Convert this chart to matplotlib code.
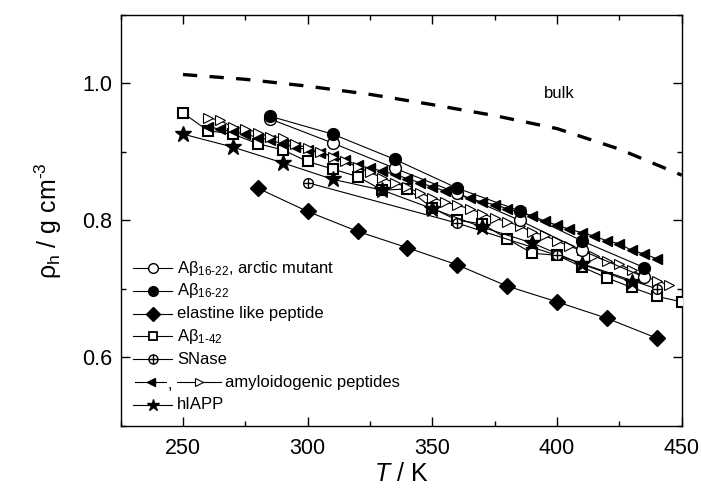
import matplotlib
matplotlib.use("Agg")
import matplotlib.pyplot as plt
from matplotlib.lines import Line2D
from matplotlib.ticker import MultipleLocator

plt.rcParams["font.family"] = ["Liberation Sans", "DejaVu Sans"]
plt.rcParams["mathtext.fontset"] = "custom"
plt.rcParams["mathtext.rm"] = "Liberation Sans"
plt.rcParams["mathtext.it"] = "Liberation Sans:italic"
plt.rcParams["mathtext.bf"] = "Liberation Sans:bold"

# bulk water
T_bulk = [250, 275, 300, 325, 350, 375, 400, 425, 450]
rho_bulk = [1.013, 1.006, 0.996, 0.984, 0.969, 0.953, 0.934, 0.904, 0.866]

# A-beta 16-22 (filled) and arctic mutant (open)
T_ab1622 = [285, 310, 335, 360, 385, 410, 435]
rho_ab1622 = [0.952, 0.926, 0.889, 0.847, 0.814, 0.770, 0.731]
rho_arctic = [0.948, 0.913, 0.876, 0.840, 0.800, 0.756, 0.717]

# elastin-like peptide
T_elp = [280, 300, 320, 340, 360, 380, 400, 420, 440]
rho_elp = [0.847, 0.813, 0.784, 0.760, 0.735, 0.704, 0.681, 0.657, 0.628]

# A-beta 1-42
T_ab142 = [250, 260, 270, 280, 290, 300, 310, 320, 330, 340, 350, 360, 370,
           380, 390, 400, 410, 420, 430, 440, 450]
rho_ab142 = [0.957, 0.931, 0.926, 0.912, 0.903, 0.886, 0.875, 0.864, 0.844,
             0.846, 0.818, 0.800, 0.795, 0.773, 0.752, 0.749, 0.732, 0.716,
             0.702, 0.689, 0.681]

# SNase
T_snase = [300, 360, 400, 440]
rho_snase = [0.855, 0.796, 0.749, 0.700]

# amyloidogenic peptides
T_amy1 = list(range(260, 445, 5))
rho_amy1 = [0.937, 0.933, 0.930, 0.926, 0.921, 0.917, 0.912, 0.907, 0.903,
            0.898, 0.894, 0.888, 0.881, 0.876, 0.872, 0.867, 0.861, 0.855,
            0.849, 0.843, 0.838, 0.832, 0.827, 0.823, 0.817, 0.812, 0.807,
            0.799, 0.793, 0.787, 0.782, 0.777, 0.770, 0.766, 0.756, 0.751,
            0.744]
T_amy2 = list(range(260, 450, 5))
rho_amy2 = [0.950, 0.946, 0.936, 0.934, 0.928, 0.922, 0.921, 0.912, 0.905,
            0.900, 0.893, 0.886, 0.878, 0.870, 0.862, 0.855, 0.848, 0.840,
            0.833, 0.827, 0.822, 0.817, 0.810, 0.803, 0.798, 0.792, 0.783,
            0.778, 0.770, 0.762, 0.756, 0.748, 0.740, 0.736, 0.727, 0.718,
            0.712, 0.705]

# hIAPP
T_iapp = [250, 270, 290, 310, 330, 350, 370, 390, 410, 430]
rho_iapp = [0.926, 0.907, 0.884, 0.860, 0.844, 0.817, 0.790, 0.767, 0.736,
            0.710]

fig = plt.figure(figsize=(7.01, 4.98), dpi=100)
ax = fig.add_axes([0.172, 0.145, 0.8005, 0.825])

lw = 0.8
k = "black"
ax.plot(T_bulk, rho_bulk, color=k, lw=2.4, dashes=(4.3, 3.7), zorder=2)

ax.plot(T_ab142, rho_ab142, color=k, lw=lw, marker="s", ms=6.5, mfc="white",
        mec=k, mew=1.5, zorder=3)
ax.plot(T_amy1, rho_amy1, color=k, lw=lw, marker="<", ms=7.5, mfc=k, mec=k,
        zorder=3)
ax.plot(T_amy2, rho_amy2, color=k, lw=lw, marker=">", ms=7.5, mfc="white",
        mec=k, mew=0.8, zorder=3)
ax.plot(T_elp, rho_elp, color=k, lw=lw, marker="D", ms=8.5, mfc=k, mec=k,
        zorder=3)
ax.plot(T_iapp, rho_iapp, color=k, lw=lw, marker="*", ms=12, mfc=k, mec=k,
        zorder=4)
ax.plot(T_snase, rho_snase, color=k, lw=lw, marker="o", ms=7, mfc="white",
        mec=k, mew=1.0, zorder=4)
ax.plot(T_snase, rho_snase, ls="none", marker="+", ms=7, mec=k, mew=1.0,
        zorder=4)
ax.plot(T_ab1622, rho_arctic, color=k, lw=lw, marker="o", ms=8.5, mfc="white",
        mec=k, mew=1.0, zorder=4)
ax.plot(T_ab1622, rho_ab1622, color=k, lw=lw, marker="o", ms=8.5, mfc=k,
        mec=k, zorder=5)

ax.text(401, 0.986, "bulk", fontsize=12, ha="center", va="center")

ax.set_xlim(225, 450)
ax.set_ylim(0.5, 1.1)
ax.xaxis.set_major_locator(MultipleLocator(50))
ax.xaxis.set_minor_locator(MultipleLocator(25))
ax.yaxis.set_major_locator(MultipleLocator(0.2))
ax.yaxis.set_minor_locator(MultipleLocator(0.1))
ax.yaxis.set_major_formatter(plt.FuncFormatter(lambda v, p: f"{v:.1f}"))
ax.tick_params(which="both", direction="in", top=True, right=True,
               width=1.0, labelsize=15.5)
ax.tick_params(which="major", length=6.5)
ax.tick_params(which="minor", length=3.8)
ax.tick_params(axis="x", pad=9)
ax.tick_params(axis="y", pad=6)
for s in ax.spines.values():
    s.set_linewidth(1.0)

ax.set_xlabel(r"$\it{T}$ / K", fontsize=18, labelpad=2)
ax.set_ylabel(r"ρ$_\mathrm{h}$ / g cm$^{\text{-}3}$", fontsize=18,
              labelpad=13)

# legend drawn by hand in figure pixels
sub = r"$_{\mathrm{16\text{-}22}}$"
rows = [
    (dict(marker="o", mfc="white", ms=7), "Aβ" + sub + ", arctic mutant"),
    (dict(marker="o", mfc=k, ms=7), "Aβ" + sub),
    (dict(marker="D", mfc=k, ms=7), "elastine like peptide"),
    (dict(marker="s", mfc="white", ms=5.5, mew=1.3), r"Aβ$_{\mathrm{1\text{-}42}}$"),
    (dict(marker="o", mfc="white", ms=6.5, extra="+"), "SNase"),
    (None, "amyloidogenic peptides"),
    (dict(marker="*", mfc=k, ms=9), "hIAPP"),
]
H = 498.0
W = 701.0
tr = fig.transFigure


def seg(x0, x1, y, style):
    extra = style.pop("extra", None)
    fig.add_artist(Line2D([x0 / W, x1 / W], [1 - y / H] * 2, color=k, lw=lw,
                          transform=tr))
    xm = (x0 + x1) / 2
    fig.add_artist(Line2D([xm / W], [1 - y / H], color=k, mec=k,
                          mew=style.pop("mew", 1.0), transform=tr, **style))
    if extra:
        fig.add_artist(Line2D([xm / W], [1 - y / H], marker=extra, ms=6.5,
                              mec=k, mew=1.0, transform=tr))


y0, dy = 268, 22.8
for i, (style, label) in enumerate(rows):
    y = y0 + i * dy
    if style is None:
        seg(135, 166, y, dict(marker="<", mfc=k, ms=6))
        fig.text(170 / W, 1 - (y + 2) / H, ",", fontsize=12, ha="center",
                 va="center")
        seg(177, 221, y, dict(marker=">", mfc="white", ms=6, mew=0.8))
        fig.text(225 / W, 1 - y / H, label, fontsize=12, va="center")
    else:
        seg(133, 172, y, dict(style))
        fig.text(177 / W, 1 - y / H, label, fontsize=12, va="center")

fig.savefig("out.png", dpi=100)
